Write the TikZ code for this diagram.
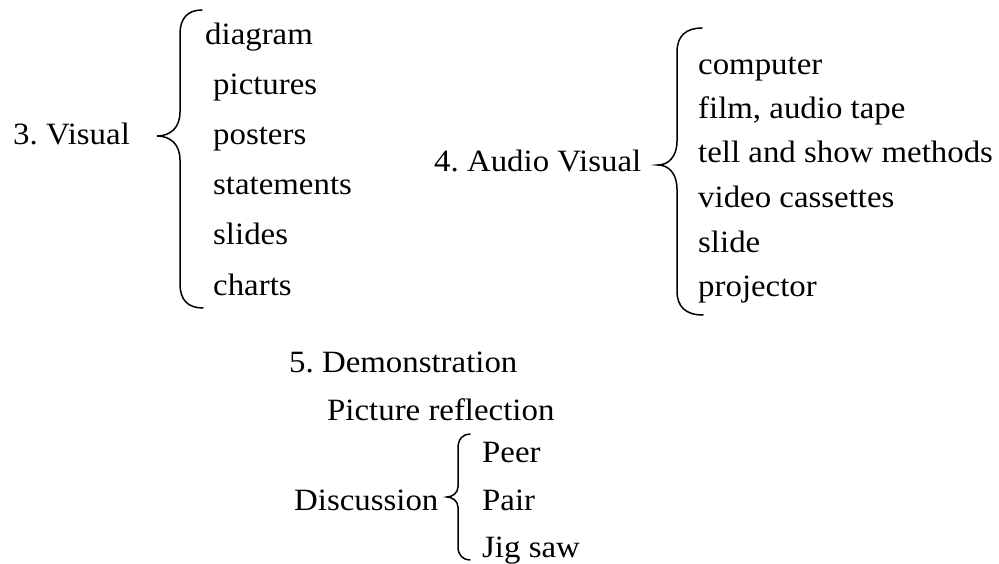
\documentclass[tikz,border=0pt]{standalone}
\usepackage{fontspec}
\setmainfont{Liberation Serif}[FakeStretch=1.06]
\usepackage{tikz}
\frenchspacing

\begin{document}
\begin{tikzpicture}[x=1pt,y=-1pt,
  txt/.style={anchor=base west,inner sep=0pt,font=\fontsize{31}{37}\selectfont},
  brc/.style={line width=1.5pt,line cap=round}]
\useasboundingbox (0,0) rectangle (999,564);
% 3. Visual
\node[txt] (vis) at (13,145) {3. Visual};
\draw[brc] (202,10) .. controls (188,10) and (180,18) .. (180,34) -- (180,112)
  .. controls (180,128) and (170,136) .. (157,136)
  .. controls (170,136) and (180,144) .. (180,160) -- (180,284)
  .. controls (180,300) and (188,308) .. (203,308);
\node[txt] (diagram) at (205,45) {diagram};
\node[txt] (pictures) at (213,95) {pictures};
\node[txt] (posters) at (213,145) {posters};
\node[txt] (statements) at (213,195) {statements};
\node[txt] (slides) at (213,245) {slides};
\node[txt] (charts) at (213,295) {charts};
% 4. Audio Visual
\node[txt] (audvis) at (434,172) {4. Audio Visual};
\draw[brc] (702,28) .. controls (686,28) and (677,36) .. (677,52) -- (677,141)
  .. controls (677,157) and (668,165) .. (658,165)
  .. controls (668,165) and (677,173) .. (677,189) -- (677,291)
  .. controls (677,307) and (686,315) .. (703,315);
\node[txt] (computer) at (698,75) {computer};
\node[txt] (film) at (698,119) {film, audio tape};
\node[txt] (tell) at (698,163) {tell and show methods};
\node[txt] (video) at (698,208) {video cassettes};
\node[txt] (slide) at (698,253) {slide};
\node[txt] (projector) at (698,296) {projector};
% 5. Demonstration
\node[txt] (demo) at (289,372) {5. Demonstration};
\node[txt] (reflect) at (327,420) {Picture reflection};
\node[txt] (disc) at (294,510) {Discussion};
\draw[brc] (470,434) .. controls (463,434) and (458,439) .. (458,448) -- (458,487)
  .. controls (458,493) and (452,497) .. (447,497)
  .. controls (452,497) and (458,501) .. (458,507) -- (458,547)
  .. controls (458,555) and (463,560) .. (470,560);
\node[txt] (peer) at (482,462) {Peer};
\node[txt] (pair) at (482,510) {Pair};
\node[txt] (jigsaw) at (482,557) {Jig saw};
\end{tikzpicture}
\end{document}
